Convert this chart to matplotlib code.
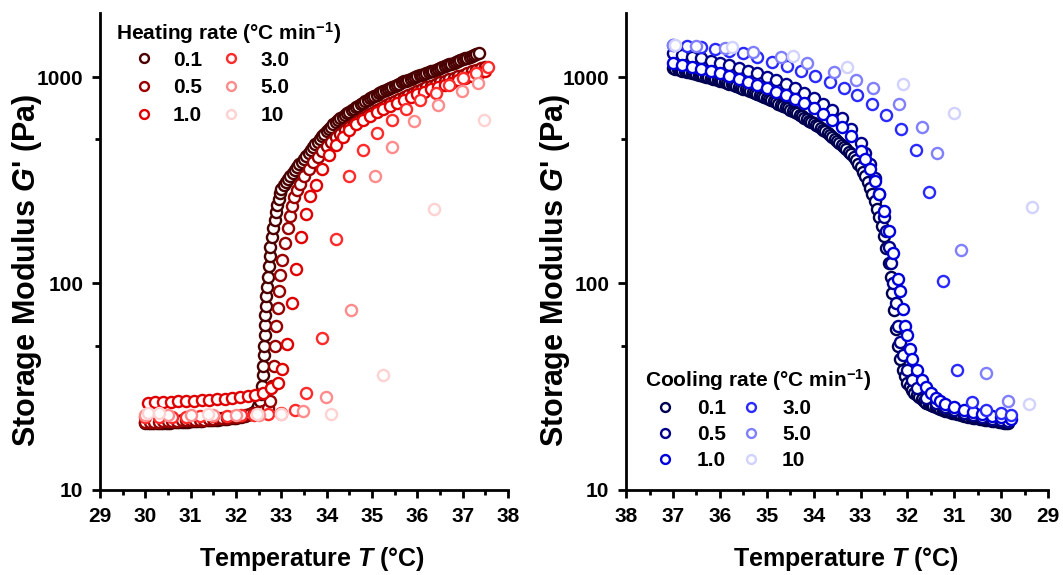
import matplotlib
matplotlib.use("Agg")
import matplotlib.pyplot as plt
from matplotlib.ticker import FixedLocator, NullFormatter, MultipleLocator

plt.rcParams['font.family'] = ['Liberation Sans', 'DejaVu Sans']
plt.rcParams['font.weight'] = 'bold'
plt.rcParams['mathtext.fontset'] = 'custom'
plt.rcParams['mathtext.it'] = 'Liberation Sans:bold:italic'
plt.rcParams['mathtext.rm'] = 'Liberation Sans:bold'
plt.rcParams['mathtext.bf'] = 'Liberation Sans:bold'

# ---------------- Heating (left panel) ----------------
heat_labels = ['0.1', '0.5', '1.0', '3.0', '5.0', '10']
heat_colors = ['#4a0000', '#990000', '#e00000', '#ff2a2a', '#ff8c8c', '#ffd2d2']

h01_T = [30.00, 30.05, 30.10, 30.15, 30.20, 30.25, 30.30, 30.35, 30.40, 30.45, 30.50, 30.55, 30.60, 30.65,
         30.70, 30.75, 30.80, 30.85, 30.90, 30.95, 31.00, 31.05, 31.10, 31.15, 31.20, 31.25, 31.30, 31.35,
         31.40, 31.45, 31.50, 31.55, 31.60, 31.65, 31.70, 31.75, 31.80, 31.85, 31.90, 31.95, 32.00, 32.05,
         32.10, 32.15, 32.20, 32.25, 32.30, 32.35, 32.40, 32.44, 32.48, 32.52, 32.55, 32.57, 32.59, 32.60,
         32.61, 32.62, 32.63, 32.64, 32.65, 32.66, 32.67, 32.68, 32.70, 32.72, 32.74, 32.76, 32.79, 32.82,
         32.85, 32.88, 32.91, 32.94, 32.97, 33.00, 33.05, 33.10, 33.15, 33.20, 33.25, 33.30, 33.35, 33.40,
         33.45, 33.50, 33.55, 33.60, 33.65, 33.70, 33.75, 33.80, 33.85, 33.90, 33.95, 34.00, 34.05, 34.10,
         34.15, 34.20, 34.25, 34.30, 34.35, 34.40, 34.45, 34.50, 34.55, 34.60, 34.65, 34.70, 34.75, 34.80,
         34.85, 34.90, 34.95, 35.00, 35.05, 35.10, 35.15, 35.20, 35.25, 35.30, 35.35, 35.40, 35.45, 35.50,
         35.55, 35.60, 35.65, 35.70, 35.75, 35.80, 35.85, 35.90, 35.95, 36.00, 36.05, 36.10, 36.15, 36.20,
         36.25, 36.30, 36.35, 36.40, 36.45, 36.50, 36.55, 36.60, 36.65, 36.70, 36.75, 36.80, 36.85, 36.90,
         36.95, 37.00, 37.05, 37.10, 37.15, 37.20, 37.25, 37.30, 37.35]
h01_G = [21.0, 21.0, 21.0, 21.0, 21.1, 21.1, 21.1, 21.1, 21.2, 21.2, 21.2, 21.2, 21.3, 21.3,
         21.3, 21.3, 21.4, 21.4, 21.4, 21.4, 21.5, 21.5, 21.5, 21.6, 21.6, 21.6, 21.7, 21.7,
         21.7, 21.8, 21.8, 21.9, 21.9, 22.0, 22.0, 22.1, 22.1, 22.2, 22.2, 22.3, 22.4, 22.5,
         22.6, 22.7, 22.8, 23.0, 23.2, 23.5, 23.9, 24.5, 25.5, 27, 29, 32, 36, 40,
         45, 50, 56, 63, 70, 78, 87, 96, 108, 122, 136, 150, 168, 186,
         204, 222, 240, 257, 273, 288, 299, 310, 322, 333, 344, 355, 366, 378,
         389, 400, 415, 429, 444, 458, 473, 487, 502, 516, 531, 545, 560, 574,
         589, 603, 618, 630, 642, 654, 667, 679, 691, 703, 715, 727, 739, 751,
         764, 776, 788, 800, 811, 822, 833, 843, 854, 865, 876, 887, 898, 909,
         919, 930, 941, 952, 961, 971, 980, 989, 999, 1008, 1017, 1027, 1036, 1045,
         1055, 1064, 1073, 1083, 1092, 1104, 1115, 1127, 1138, 1150, 1161, 1173, 1184, 1196,
         1207, 1219, 1231, 1242, 1254, 1265, 1277, 1288, 1300]

h05_T = [30.0, 30.1, 30.2, 30.3, 30.4, 30.5, 30.6, 30.7, 30.8, 30.9, 31.0, 31.1, 31.2, 31.3, 31.4, 31.5, 31.6,
         31.7, 31.8, 31.9, 32.0, 32.1, 32.2, 32.3, 32.4, 32.5, 32.6, 32.7, 32.75, 32.80, 32.83, 32.86, 32.89,
         32.92, 32.95, 32.98, 33.02, 33.08, 33.14, 33.19, 33.24, 33.28, 33.35, 33.41, 33.5, 33.6, 33.7, 33.8,
         33.9, 34.0, 34.1, 34.2, 34.3, 34.4, 34.5, 34.6, 34.7, 34.8, 34.9, 35.0, 35.1, 35.2, 35.3, 35.4, 35.5,
         35.6, 35.7, 35.8, 35.9, 36.0, 36.1, 36.2, 36.3, 36.4, 36.5, 36.6, 36.7, 36.8, 36.9, 37.0, 37.1, 37.2,
         37.3, 37.4, 37.5]
h05_G = [21.3, 21.3, 21.4, 21.4, 21.5, 21.5, 21.6, 21.6, 21.7, 21.7, 21.8, 21.8, 21.9, 21.9, 22.0, 22.1, 22.2,
         22.3, 22.4, 22.5, 22.6, 22.8, 23.0, 23.2, 23.5, 23.8, 24.2, 24.8, 27, 32, 40, 50, 62,
         76, 92, 110, 130, 157, 185, 212, 238, 262, 285, 304, 330, 358, 386, 412,
         438, 462, 486, 510, 532, 553, 574, 595, 615, 634, 653, 672, 691, 710, 729, 748, 766,
         784, 802, 820, 838, 856, 873, 890, 907, 924, 941, 958, 975, 992, 1010, 1028, 1047, 1066,
         1085, 1102, 1117]

h10_T = [30.05, 30.22, 30.39, 30.56, 30.73, 30.90, 31.07, 31.24, 31.41, 31.58, 31.75, 31.92, 32.09, 32.26,
         32.43, 32.60, 32.78, 32.93, 33.02, 33.13, 33.23, 33.33, 33.43, 33.55, 33.64, 33.77, 33.9, 34.05, 34.2,
         34.35, 34.5, 34.65, 34.8, 34.95, 35.1, 35.25, 35.4, 35.55, 35.7, 35.85, 36.0, 36.15, 36.3, 36.45, 36.6,
         36.75, 36.9, 37.05, 37.2, 37.35, 37.5]
h10_G = [26.5, 26.6, 26.7, 26.8, 26.9, 27.0, 27.1, 27.2, 27.4, 27.5, 27.7, 27.9, 28.1, 28.4,
         28.8, 29.5, 31, 33, 38.5, 51, 80, 118, 168, 216, 265, 300, 360, 420, 470,
         515, 555, 590, 620, 648, 675, 700, 725, 750, 775, 800, 825, 848, 870, 893, 916,
         940, 963, 987, 1012, 1040, 1070]

h30_T = [30.0, 30.3, 30.6, 30.9, 31.2, 31.5, 31.8, 32.1, 32.4, 32.7, 33.0, 33.3, 33.55, 33.9, 34.2, 34.5,
         34.8, 35.1, 35.45, 35.75, 36.05, 36.4, 36.7, 37.0, 37.3, 37.55]
h30_G = [22.5, 22.5, 22.6, 22.6, 22.7, 22.8, 22.9, 23.0, 23.1, 23.3, 23.6, 24.5, 29.5, 54.5, 164, 330,
         445, 535, 620, 700, 778, 836, 913, 990, 1040, 1120]

h50_T = [30.0, 30.5, 31.0, 31.5, 32.0, 32.5, 33.0, 33.48, 33.99, 34.54, 35.07, 35.44, 35.93, 36.46, 36.99, 37.34]
h50_G = [23.0, 23.0, 23.0, 23.0, 23.0, 23.0, 23.2, 24.0, 28.2, 74.5, 330, 457, 610, 730, 860, 935]

h100_T = [30.05, 30.3, 31.38, 32.46, 33.0, 34.1, 35.24, 36.37, 37.47]
h100_G = [23.5, 23.5, 23.3, 23.2, 23.2, 23.3, 36, 230, 617]

# ---------------- Cooling (right panel) ----------------
cool_labels = ['0.1', '0.5', '1.0', '3.0', '5.0', '10']
cool_colors = ['#000050', '#00008b', '#0000dd', '#2a2aff', '#8080ff', '#d2d2ff']

c01_T = [37.00, 36.95, 36.90, 36.85, 36.80, 36.75, 36.70, 36.65, 36.60, 36.55, 36.50, 36.45, 36.40, 36.35,
         36.30, 36.25, 36.20, 36.15, 36.10, 36.05, 36.00, 35.95, 35.90, 35.85, 35.80, 35.75, 35.70, 35.65,
         35.60, 35.55, 35.50, 35.45, 35.40, 35.35, 35.30, 35.25, 35.20, 35.15, 35.10, 35.05, 35.00, 34.95,
         34.90, 34.85, 34.80, 34.75, 34.70, 34.65, 34.60, 34.55, 34.50, 34.45, 34.40, 34.35, 34.30, 34.25,
         34.20, 34.15, 34.10, 34.05, 34.00, 33.95, 33.90, 33.85, 33.80, 33.75, 33.70, 33.65, 33.60, 33.55,
         33.50, 33.45, 33.40, 33.35, 33.30, 33.25, 33.20, 33.15, 33.10, 33.05, 33.00, 32.95, 32.90, 32.85,
         32.80, 32.75, 32.70, 32.65, 32.60, 32.55, 32.50, 32.45, 32.40, 32.36, 32.32, 32.28, 32.24, 32.20,
         32.15, 32.10, 32.05, 32.00, 31.95, 31.90, 31.85, 31.80, 31.75, 31.70, 31.65, 31.60, 31.55, 31.50,
         31.45, 31.40, 31.35, 31.30, 31.25, 31.20, 31.15, 31.10, 31.05, 31.00, 30.95, 30.90, 30.85, 30.80,
         30.75, 30.70, 30.65, 30.60, 30.55, 30.50, 30.45, 30.40, 30.35, 30.30, 30.25, 30.20, 30.15, 30.10,
         30.05, 30.00, 29.95, 29.90, 29.85]
c01_G = [1100, 1094, 1088, 1082, 1075, 1069, 1062, 1055, 1048, 1042, 1035, 1028, 1020, 1013,
         1005, 998, 990, 983, 975, 968, 960, 952, 944, 936, 928, 920, 912, 904,
         895, 887, 878, 870, 861, 853, 844, 835, 826, 817, 808, 799, 790, 781,
         772, 763, 753, 744, 734, 725, 715, 706, 696, 686, 676, 666, 656, 646,
         636, 626, 615, 606, 597, 587, 576, 566, 555, 545, 534, 524, 513, 503,
         492, 481, 470, 459, 447, 435, 422, 409, 395, 380, 365, 348, 330, 310,
         290, 270, 250, 230, 210, 190, 170, 148, 126, 108, 90, 74, 60, 50,
         43, 38, 35.5, 33, 31.7, 30.5, 29.6, 28.8, 28.1, 27.5, 27.0, 26.5, 26.1, 25.8,
         25.5, 25.2, 24.9, 24.7, 24.4, 24.2, 24.0, 23.8, 23.6, 23.5, 23.3, 23.2, 23.0, 22.9,
         22.7, 22.6, 22.5, 22.4, 22.3, 22.2, 22.1, 22.0, 21.9, 21.8, 21.7, 21.6, 21.5, 21.5,
         21.4, 21.3, 21.2, 21.2, 21.1]

c05_T = [37.0, 36.8, 36.6, 36.4, 36.2, 36.0, 35.8, 35.6, 35.4, 35.2, 35.0, 34.8, 34.6, 34.4, 34.2, 34.0, 33.8,
         33.6, 33.4, 33.2, 33.0, 32.9, 32.8, 32.7, 32.6, 32.5, 32.45, 32.4, 32.35, 32.3, 32.25, 32.2, 32.15,
         32.1, 32.0, 31.9, 31.8, 31.6, 31.4, 31.2, 31.0, 30.8, 30.6, 30.4, 30.2, 30.0, 29.85]
c05_G = [1300, 1280, 1255, 1230, 1200, 1170, 1140, 1110, 1075, 1040, 1000, 965, 925, 885, 840, 790, 740,
         690, 630, 560, 480, 430, 380, 325, 270, 210, 180, 150, 125, 100, 80, 62, 52,
         45, 38, 34, 31, 28, 26.5, 25.3, 24.5, 23.7, 23.0, 22.5, 22.1, 21.8, 21.5]

c10_T = [37.0, 36.8, 36.6, 36.4, 36.2, 36.0, 35.8, 35.6, 35.4, 35.2, 35.0, 34.8, 34.6, 34.4, 34.2, 34.0, 33.8,
         33.6, 33.4, 33.2, 33.0, 32.9, 32.8, 32.7, 32.6, 32.5, 32.4, 32.3, 32.2, 32.15, 32.09, 32.05, 32.0,
         31.95, 31.9, 31.8, 31.7, 31.6, 31.5, 31.4, 31.3, 31.2, 31.0, 30.8, 30.6, 30.4, 30.2, 30.0, 29.8]
c10_G = [1170, 1145, 1120, 1095, 1065, 1040, 1010, 980, 950, 915, 885, 850, 815, 780, 745, 705, 665,
         620, 575, 520, 440, 400, 360, 315, 270, 225, 180, 140, 105, 92, 75, 62, 56,
         48, 43, 38, 34, 31.5, 29.5, 28, 27, 26.2, 25.2, 24.4, 23.8, 23.2, 22.8, 22.5, 22.0]

c30_T = [37.0, 36.7, 36.4, 36.1, 35.8, 35.5, 35.2, 34.89, 34.57, 34.27, 33.97, 33.65, 33.35, 33.07, 32.75,
         32.46, 32.14, 31.82, 31.54, 31.24, 30.94, 30.62, 30.32, 30.0, 29.8]
c30_G = [1430, 1410, 1390, 1365, 1340, 1300, 1250, 1182, 1130, 1069, 1011, 945, 885, 818, 740,
         654, 560, 443, 277, 103, 38, 26.7, 24.5, 23.5, 23.0]

c50_T = [37.0, 36.5, 35.9, 35.3, 34.7, 34.14, 33.57, 33.1, 32.73, 32.18, 31.69, 31.37, 30.85, 30.32, 29.85]
c50_G = [1430, 1410, 1380, 1320, 1250, 1170, 1055, 970, 880, 740, 570, 428, 145, 37, 27]

c100_T = [36.95, 35.75, 34.44, 33.29, 32.09, 31.0, 29.35, 29.4]
c100_G = [1430, 1400, 1264, 1117, 925, 670, 234, 26]

heat_T = [h01_T, h05_T, h10_T, h30_T, h50_T, h100_T]
heat_G = [h01_G, h05_G, h10_G, h30_G, h50_G, h100_G]
cool_T = [c01_T, c05_T, c10_T, c30_T, c50_T, c100_T]
cool_G = [c01_G, c05_G, c10_G, c30_G, c50_G, c100_G]

x_ticks = [29, 30, 31, 32, 33, 34, 35, 36, 37, 38]
y_ticks = [10, 100, 1000]

fig = plt.figure(figsize=(10.63, 5.75), dpi=100)
axL = fig.add_axes([0.094, 0.148, 0.384, 0.83])
axR = fig.add_axes([0.589, 0.148, 0.397, 0.83])

MS = 8.0
MEW = 1.7


def style_axis(ax, reverse):
    ax.set_yscale('log')
    ax.set_ylim(10, 2050)
    ax.set_xlim((38, 29) if reverse else (29, 38))
    ax.xaxis.set_major_locator(FixedLocator(x_ticks))
    ax.xaxis.set_minor_locator(MultipleLocator(0.5))
    ax.yaxis.set_major_locator(FixedLocator(y_ticks))
    ax.yaxis.set_minor_locator(FixedLocator([50, 500]))
    ax.yaxis.set_minor_formatter(NullFormatter())
    ax.set_yticklabels([str(t) for t in y_ticks])
    ax.set_xticklabels([str(t) for t in x_ticks])
    for s in ['top', 'right']:
        ax.spines[s].set_visible(False)
    for s in ['left', 'bottom']:
        ax.spines[s].set_linewidth(2.0)
    ax.tick_params(which='major', direction='out', length=6, width=2.0, labelsize=15, pad=6)
    ax.tick_params(which='minor', direction='out', length=3.5, width=2.0)
    ax.set_xlabel('Temperature $\\mathit{T}$ (°C)', fontsize=18, fontweight='bold')
    ax.set_ylabel("Storage Modulus $\\mathit{G}$' (Pa)", fontsize=22, fontweight='bold')
    ax.xaxis.set_label_coords(0.52, -0.115)
    ax.yaxis.set_label_coords(-0.137 if not reverse else -0.128, 0.46)


for ax, Ts, Gs, cols, labs in [(axL, heat_T, heat_G, heat_colors, heat_labels),
                               (axR, cool_T, cool_G, cool_colors, cool_labels)]:
    for T, G, c, lab in zip(Ts, Gs, cols, labs):
        assert len(T) == len(G), lab
        ax.plot(T, G, linestyle='none', marker='o', markersize=MS, markerfacecolor='white',
                markeredgecolor=c, markeredgewidth=MEW, label=lab)

style_axis(axL, False)
style_axis(axR, True)

legL = axL.legend(title='Heating rate (°C min$^{-1}$)', ncol=2, loc='upper left',
                  bbox_to_anchor=(0.015, 1.006), frameon=False, fontsize=15, title_fontsize=15,
                  borderpad=0.0, handlelength=2.6, handletextpad=0.1, columnspacing=0.1,
                  labelspacing=0.42, markerscale=0.8)
legR = axR.legend(title='Cooling rate (°C min$^{-1}$)', ncol=2, loc='lower left',
                  bbox_to_anchor=(0.019, 0.019), frameon=False, fontsize=15, title_fontsize=15,
                  borderpad=0.0, handlelength=2.0, handletextpad=0.5, columnspacing=0.2,
                  labelspacing=0.35, markerscale=0.8)
for leg, sep in ((legL, 3.3), (legR, 4.0)):
    leg.get_title().set_fontweight('bold')
    leg._legend_box.align = 'left'
    leg._legend_box.sep = sep

fig.savefig('out.png', dpi=100)
